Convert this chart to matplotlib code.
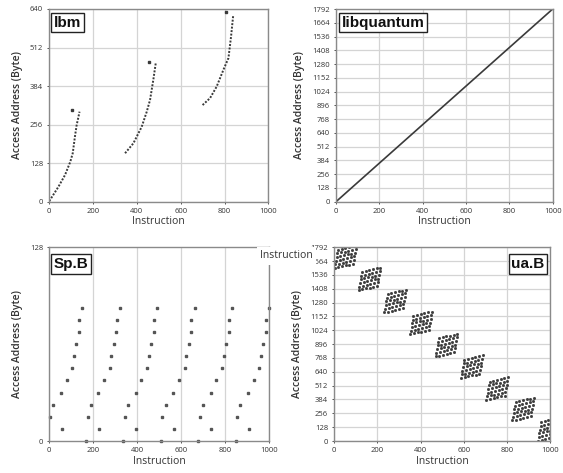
import numpy as np
import matplotlib.pyplot as plt

plt.rcParams['font.family'] = ['Open Sans', 'DejaVu Sans']

# lbm: three sweeps (instruction, address) plus a stray access above each
lbm_seg1_x = [0, 42, 72, 96, 107, 117, 125, 132, 138]
lbm_seg1_y = [2, 50, 89, 133, 161, 216, 255, 278, 299]
lbm_seg2_x = [346, 384, 422, 445, 460, 475, 486]
lbm_seg2_y = [161, 194, 249, 299, 338, 405, 460]
lbm_seg3_x = [700, 734, 764, 795, 818, 830, 840]
lbm_seg3_y = [321, 344, 382, 438, 477, 549, 621]
lbm_stray_x = [102, 457, 807]
lbm_stray_y = [305, 465, 630]

# libquantum: one straight streaming sweep
lq_x = [0, 1000]
lq_y = [0, 1792]

# Sp.B: repeating access pattern, one cycle every 170 instructions
sp_cycle_start = [-170, 0, 170, 340, 510, 680, 850]
sp_step_dx = [53, 56, 79, 105, 112, 123, 135, 136, 150, 167, 174, 189]
sp_step_y = [32, 8, 40, 48, 56, 64, 72, 80, 88, 0, 16, 24]

# ua.B: tiles of accesses, bottom-left corner of each tile
ua_block_x = [2, 113, 232, 352, 470, 588, 705, 826, 944]
ua_block_y = [1600, 1395, 1190, 988, 782, 582, 380, 190, 4]
ua_col_dx = [0, 17, 34, 51, 68, 85]
ua_col_rise = [0, 8, 16, 24, 32, 40]
ua_row_dy = [0, 34, 68, 102, 136, 170]
ua_row_lean = [0, 3, 6, 9, 12, 15]

W, H = 563, 473
TXT = '#333333'
DOT = '#3a3a3a'


def px_axes(fig, left, top, right, bottom):
    return fig.add_axes([left / W, 1 - bottom / H, (right - left) / W, (bottom - top) / H])


def style(ax, yticks, tag, tag_pos, tag_ha='left', hgrid=True):
    ax.set_xlim(0, 1000)
    ax.set_ylim(yticks[0], yticks[-1])
    ax.set_xticks([0, 200, 400, 600, 800, 1000])
    ax.set_yticks(yticks)
    ax.tick_params(labelsize=5.5, colors=TXT, length=1.5, width=0.6, pad=3)
    for s in ax.spines.values():
        s.set_color('#8a8a8a')
        s.set_linewidth(1.0)
    ax.grid(axis='x', color='#d4d4d4', lw=0.9)
    if hgrid:
        ax.grid(axis='y', color='#d4d4d4', lw=0.9)
    ax.set_axisbelow(True)
    ax.set_xlabel('Instruction', fontsize=7.5, color=TXT, labelpad=1)
    ax.set_ylabel('Access Address (Byte)', fontsize=7.5, color=TXT,
                  fontweight='semibold', labelpad=5)
    ax.text(tag_pos[0], tag_pos[1], tag, transform=ax.transAxes, ha=tag_ha, va='top',
            fontsize=11, fontweight='bold', family=['Liberation Sans', 'DejaVu Sans'],
            color='#111111',
            bbox=dict(boxstyle='square,pad=0.18', fc='white', ec='#222222', lw=1.0))


fig = plt.figure(figsize=(W / 100, H / 100), dpi=100)

# lbm
ax = px_axes(fig, 49.3, 9, 268.3, 201.7)
for xs, ys in [(lbm_seg1_x, lbm_seg1_y), (lbm_seg2_x, lbm_seg2_y), (lbm_seg3_x, lbm_seg3_y)]:
    ax.plot(xs, ys, linestyle=(0, (1, 0.8)), lw=1.4, color=DOT)
ax.plot(lbm_stray_x, lbm_stray_y, 's', ms=1.5, color=DOT, lw=0)
style(ax, [0, 128, 256, 384, 512, 640], 'lbm', (0.02, 0.965))

# libquantum
ax = px_axes(fig, 336, 9, 552.7, 201.7)
ax.plot(lq_x, lq_y, color=DOT, lw=1.2)
style(ax, list(range(0, 1793, 128)), 'libquantum', (0.025, 0.965))

# Sp.B
ax = px_axes(fig, 49.3, 247.3, 269.3, 441)
sp_x, sp_y = [], []
for c in sp_cycle_start:
    for dx, y in zip(sp_step_dx, sp_step_y):
        if 0 <= c + dx <= 1000:
            sp_x.append(c + dx)
            sp_y.append(y)
ax.plot(sp_x, sp_y, 's', ms=1.5, color='#555555', lw=0, clip_on=False)
style(ax, [0, 128], 'Sp.B', (0.02, 0.95), hgrid=False)

# ua.B
ax = px_axes(fig, 334.3, 247.3, 550, 441)
ua_x, ua_y = [], []
for bx, by in zip(ua_block_x, ua_block_y):
    for cdx, crise in zip(ua_col_dx, ua_col_rise):
        for rdy, rlean in zip(ua_row_dy, ua_row_lean):
            ua_x.append(bx + cdx + rlean)
            ua_y.append(by + rdy + crise)
ax.plot(ua_x, ua_y, 's', ms=1.0, color=DOT, lw=0)
style(ax, list(range(0, 1793, 128)), 'ua.B', (0.975, 0.95), tag_ha='right')

# stray label left over where the panels overlap
fig.text(286 / W, 1 - 256 / H, 'Instruction', ha='center', va='center', fontsize=7.5,
         color=TXT, bbox=dict(boxstyle='square,pad=0.3', fc='white', ec='none'))

fig.savefig('out.png', dpi=100)
